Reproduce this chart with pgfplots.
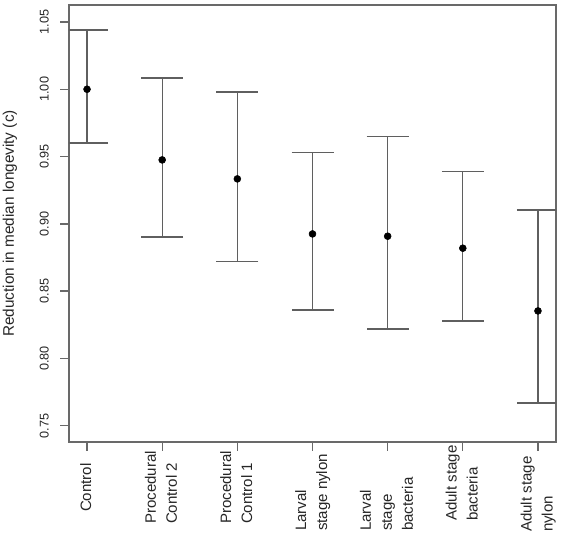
\documentclass[border=0pt]{standalone}
\usepackage{fontspec}
\setmainfont{Liberation Sans}
\usepackage{pgfplots}
\pgfplotsset{compat=1.18}
\definecolor{barc}{RGB}{95,95,95}
\definecolor{framec}{RGB}{105,105,105}
\newcommand{\xl}[2]{\makebox[#1][l]{\begin{tabular}{@{}l@{}}#2\end{tabular}}}
\begin{document}
\begin{tikzpicture}
\path[use as bounding box] (-51.75pt,-73.5pt) rectangle (369pt,331.5pt);
\begin{axis}[
  at={(0,0)}, anchor=south west,
  scale only axis, width=365.25pt, height=327.75pt,
  xmin=0.76, xmax=7.24, ymin=0.7379, ymax=1.0626,
  axis line style={draw=framec, line width=1.1pt},
  tick style={draw=framec, line width=1pt},
  tick align=outside, major tick length=6.5pt,
  tick pos=left,
  ytick={0.75,0.8,0.85,0.9,0.95,1,1.05},
  yticklabel style={/pgf/number format/.cd, fixed, fixed zerofill, precision=2, assume math mode=true, /tikz/.cd,
    xshift=-8.5pt, rotate=90, anchor=south, inner sep=0pt, text=black!85, font=\fontsize{9.5}{11}\selectfont},
  xtick={1,2,3,4,5,6,7},
  xticklabels={
    {\xl{45.75pt}{Control}},
    {\xl{54.75pt}{Procedural\\Control 2}},
    {\xl{54.75pt}{Procedural\\Control 1}},
    {\xl{60pt}{Larval\\stage nylon}},
    {\xl{60pt}{Larval\\stage\\bacteria}},
    {\xl{52.5pt}{Adult stage\\bacteria}},
    {\xl{60.75pt}{Adult stage\\nylon}}
  },
  xticklabel style={rotate=90, anchor=east, inner sep=0pt, text=black!85, font=\fontsize{11.3}{15.75}\selectfont},
  ylabel={Reduction in median longevity (c)},
  every axis y label/.style={at={(axis description cs:0,0.5)}, xshift=-41.25pt, rotate=90, anchor=base, inner sep=0pt, text=black!85, font=\fontsize{11.5}{13}\selectfont},
]
\addplot[only marks, mark=*, mark size=2.6pt, black,
  error bars/.cd, y dir=both, y explicit,
  error bar style={draw=barc, line width=0.9pt},
  error mark options={draw=barc, line width=1.2pt, mark size=15.75pt, rotate=90}]
  table[x=x, y=y, y error plus=ep, y error minus=em] {
x y ep em
1 1.0000 0.0440 0.0400
2 0.9475 0.0607 0.0575
3 0.9334 0.0644 0.0614
4 0.8925 0.0604 0.0567
5 0.8908 0.0742 0.0688
6 0.8819 0.0569 0.0540
7 0.8353 0.0748 0.0683
};
\end{axis}
\end{tikzpicture}
\end{document}
